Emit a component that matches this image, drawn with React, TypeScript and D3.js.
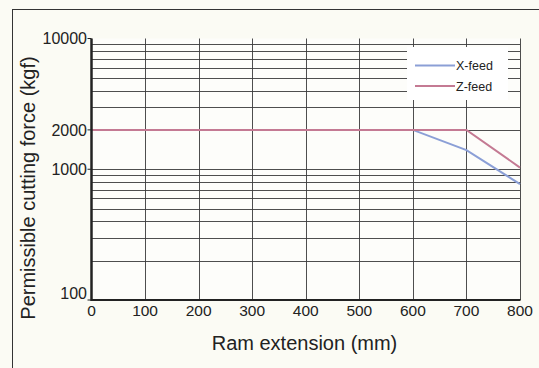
import { useEffect, useRef } from 'react';
import * as d3 from 'd3';

const W = 539;
const H = 368;

const ramExtension = [0, 100, 200, 300, 400, 500, 600, 700, 800];
const xFeed = [
  { x: 0, y: 2000 },
  { x: 600, y: 2000 },
  { x: 700, y: 1400 },
  { x: 800, y: 770 },
];
const zFeed = [
  { x: 0, y: 2000 },
  { x: 600, y: 2000 },
  { x: 700, y: 2000 },
  { x: 800, y: 1030 },
];
const yTickLabels = [10000, 2000, 1000, 100];
const yGridValues = [200, 300, 400, 500, 600, 700, 800, 900, 1000, 2000, 3000, 4000, 5000, 6000, 7000, 8000, 9000];

const BLUE = '#8b9fd6';
const PINK = '#c47a93';
const FONT = '"Liberation Sans", Arial, sans-serif';

export default function App() {
  const svgRef = useRef<SVGSVGElement>(null);

  useEffect(() => {
    const svg = d3.select(svgRef.current);
    svg.selectAll('*').remove();

    const x = d3.scaleLinear().domain([0, 800]).range([91.5, 520]);
    const y = d3.scaleLog().domain([100, 10000]).range([300, 38.5]);

    svg.append('rect').attr('width', W).attr('height', H).attr('fill', '#fbfbf4');
    // outer frame (runs off the right and bottom edges)
    svg.append('rect')
      .attr('x', 12.5).attr('y', 9.5)
      .attr('width', W).attr('height', H)
      .attr('fill', 'none').attr('stroke', '#333').attr('stroke-width', 1);

    svg.append('rect')
      .attr('x', x(0)).attr('y', y(10000))
      .attr('width', x(800) - x(0)).attr('height', y(100) - y(10000))
      .attr('fill', '#fdfdfa');

    const g = svg.append('g');

    // horizontal grid
    g.selectAll('.hgrid')
      .data(yGridValues)
      .join('line')
      .attr('x1', x(0)).attr('x2', x(800))
      .attr('y1', d => Math.round(y(d)) + 0.5)
      .attr('y2', d => Math.round(y(d)) + 0.5)
      .attr('stroke', '#3a3a3a').attr('stroke-width', 0.9);

    // vertical grid
    g.selectAll('.vgrid')
      .data(ramExtension.slice(1))
      .join('line')
      .attr('x1', d => Math.round(x(d)) + 0.5)
      .attr('x2', d => Math.round(x(d)) + 0.5)
      .attr('y1', y(10000)).attr('y2', y(100))
      .attr('stroke', '#3a3a3a').attr('stroke-width', 0.9);

    // legend box masks grid
    svg.append('rect')
      .attr('x', 407).attr('y', 47).attr('width', 101).attr('height', 53)
      .attr('fill', '#ffffff');

    const line = d3.line<{ x: number; y: number }>().x(d => x(d.x)).y(d => y(d.y));
    svg.append('path').datum(xFeed).attr('d', line)
      .attr('fill', 'none').attr('stroke', BLUE).attr('stroke-width', 2);
    svg.append('path').datum(zFeed).attr('d', line)
      .attr('fill', 'none').attr('stroke', PINK).attr('stroke-width', 2);

    // axes
    svg.append('line')
      .attr('x1', x(0)).attr('x2', x(0)).attr('y1', y(10000)).attr('y2', y(100) + 1)
      .attr('stroke', '#222').attr('stroke-width', 2.5);
    svg.append('line')
      .attr('x1', x(0)).attr('x2', x(800) + 0.5).attr('y1', y(100)).attr('y2', y(100))
      .attr('stroke', '#222').attr('stroke-width', 2);

    svg.selectAll('.ytick')
      .data(yTickLabels)
      .join('line')
      .attr('x1', x(0) - 4).attr('x2', x(0))
      .attr('y1', d => y(d)).attr('y2', d => y(d))
      .attr('stroke', '#222').attr('stroke-width', 1);

    svg.selectAll('.ylabel')
      .data(yTickLabels)
      .join('text')
      .attr('x', 87)
      .attr('y', d => (d === 100 ? y(d) - 1 : y(d)))
      .attr('dy', d => (d === 100 ? '0' : '0.36em'))
      .attr('text-anchor', 'end')
      .attr('font-family', FONT).attr('font-size', 16).attr('fill', '#222')
      .text(d => String(d));

    svg.selectAll('.xlabel')
      .data(ramExtension)
      .join('text')
      .attr('x', d => x(d)).attr('y', 316)
      .attr('text-anchor', 'middle')
      .attr('font-family', FONT).attr('font-size', 15.5).attr('fill', '#222')
      .text(d => String(d));

    svg.append('text')
      .attr('x', 304.5).attr('y', 349.5)
      .attr('text-anchor', 'middle')
      .attr('font-family', FONT).attr('font-size', 20).attr('fill', '#222')
      .text('Ram extension (mm)');

    svg.append('text')
      .attr('transform', 'translate(35,188) rotate(-90)')
      .attr('text-anchor', 'middle')
      .attr('font-family', FONT).attr('font-size', 20).attr('fill', '#222')
      .text('Permissible cutting force (kgf)');

    // legend
    const legend = [
      { label: 'X-feed', color: BLUE },
      { label: 'Z-feed', color: PINK },
    ];
    const lg = svg.append('g');
    legend.forEach((d, i) => {
      const ly = 65.5 + i * 20.5;
      lg.append('line')
        .attr('x1', 415).attr('x2', 455).attr('y1', ly).attr('y2', ly)
        .attr('stroke', d.color).attr('stroke-width', 2);
      lg.append('text')
        .attr('x', 456).attr('y', ly).attr('dy', '0.36em')
        .attr('font-family', FONT).attr('font-size', 12.5).attr('fill', '#222')
        .text(d.label);
    });
  }, []);

  return (
    <svg
      ref={svgRef}
      width={W}
      height={H}
      style={{ position: 'fixed', left: 0, top: 0 }}
    />
  );
}
